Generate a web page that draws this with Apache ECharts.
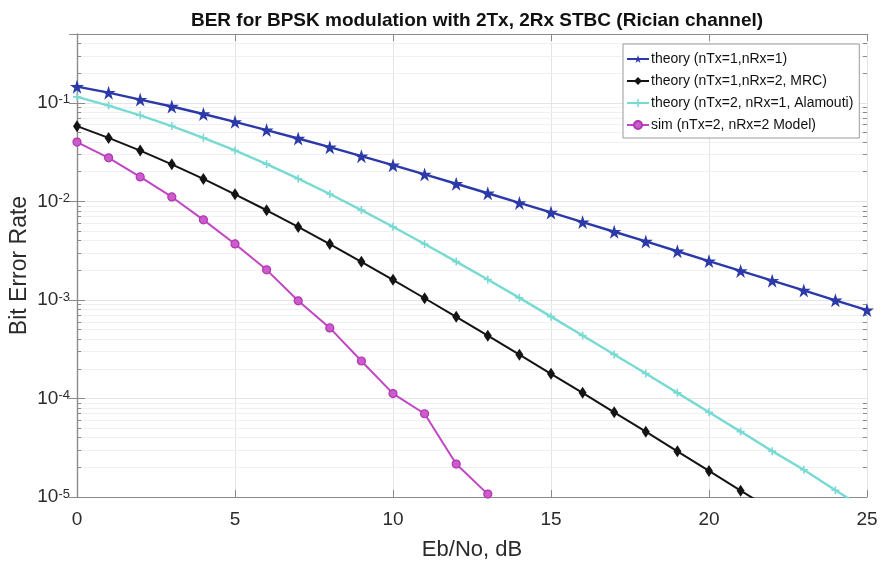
<!DOCTYPE html>
<html>
<head>
<meta charset="utf-8">
<script src="https://cdn.jsdelivr.net/npm/echarts@6/dist/echarts.min.js"></script>
<style>
  html, body { margin: 0; padding: 0; background: #ffffff; }
  #chart { width: 882px; height: 568px; }
</style>
</head>
<body>
<div id="chart"></div>
<script>
// Eb/No axis, dB
const ebno = [0, 1, 2, 3, 4, 5, 6, 7, 8, 9, 10, 11, 12, 13, 14, 15, 16, 17, 18, 19, 20, 21, 22, 23, 24, 25];

// BER curves
const berSiso = [0.146, 0.127, 0.108, 0.0919, 0.0771, 0.0642, 0.0530, 0.0435, 0.0355, 0.0288,
  0.0233, 0.0188, 0.0151, 0.0121, 0.00966, 0.00772, 0.00617, 0.00492, 0.00392, 0.00312,
  0.00248, 0.00197, 0.00157, 0.00125, 0.000992, 0.000789];
const berMrc = [0.0580, 0.0441, 0.0328, 0.0238, 0.0169, 0.0118, 0.00813, 0.00551, 0.00369, 0.00244,
  0.00160, 0.00104, 0.000674, 0.000434, 0.000278, 0.000178, 0.000114, 7.24e-5, 4.60e-5, 2.91e-5,
  1.84e-5, 1.16e-5, 7.4e-6];
const berAlamouti = [0.115, 0.0939, 0.0748, 0.0582, 0.0442, 0.0329, 0.0239, 0.0170, 0.0119, 0.00816,
  0.00553, 0.00370, 0.00245, 0.00161, 0.00105, 0.000677, 0.000436, 0.000280, 0.000179, 0.000114,
  7.25e-5, 4.61e-5, 2.92e-5, 1.89e-5, 1.17e-5, 7.4e-6];
const berSim = [0.040, 0.0277, 0.0177, 0.0111, 0.0065, 0.0037, 0.00202, 0.00098, 0.00052, 0.00024,
  0.000112, 7.0e-5, 2.16e-5, 1.07e-5];

const seriesNames = [
  'theory (nTx=1,nRx=1)',
  'theory (nTx=1,nRx=2, MRC)',
  'theory (nTx=2, nRx=1, Alamouti)',
  'sim (nTx=2, nRx=2 Model)'
];

// Axis ranges and tick labels
const xMin = 0, xMax = 25, xStep = 5;
const yMin = 1e-5, yMax = 0.5;
const yTickExponents = [-5, -4, -3, -2, -1];

const FONT = "'Liberation Sans', Arial, sans-serif";
const AXIS_GREY = '#8a8a8a';
const TEXT_DARK = '#2b2b2b';

const pairs = (ys) => ys.map((y, i) => [ebno[i], y]);

// minor decade positions 2..9 x 10^k inside the y range
const minorVals = [];
yTickExponents.forEach(k => {
  for (let m = 2; m <= 9; m++) {
    const v = m * Math.pow(10, k);
    if (v < yMax) minorVals.push(v);
  }
});

const minorGrid = minorVals.map(v => [{ coord: [xMin, v] }, { coord: [xMax, v] }]);
const minorTicks = [];
minorVals.forEach(v => {
  minorTicks.push([{ coord: [xMin, v] }, { coord: [xMin + 0.13, v] }]);
  minorTicks.push([{ coord: [xMax - 0.13, v] }, { coord: [xMax, v] }]);
});

const starPath = 'path://M50,0 L61.2,34.5 L97.6,34.5 L68.2,55.9 L79.4,90.5 L50,69.1 L20.6,90.5 L31.8,55.9 L2.4,34.5 L38.8,34.5 Z';
const plusPath = 'path://M4,0 L6,0 L6,4 L10,4 L10,6 L6,6 L6,10 L4,10 L4,6 L0,6 L0,4 L4,4 Z';

const chart = echarts.init(document.getElementById('chart'), null, { renderer: 'canvas' });

chart.setOption({
  animation: false,
  backgroundColor: '#ffffff',
  title: {
    text: 'BER for BPSK modulation with 2Tx, 2Rx STBC (Rician channel)',
    left: 472,
    textAlign: 'center',
    top: 6,
    textStyle: { fontFamily: FONT, fontSize: 19, fontWeight: 'bold', color: '#111' }
  },
  grid: { left: 77, top: 34, right: 15, bottom: 71, outerBoundsMode: 'none', containLabel: false },
  legend: {
    data: seriesNames,
    orient: 'vertical',
    left: 623,
    top: 44,
    backgroundColor: '#ffffff',
    borderColor: '#9a9a9a',
    borderWidth: 1,
    padding: [8, 6, 6, 3],
    itemGap: 8,
    itemWidth: 22,
    itemHeight: 10,
    textStyle: { fontFamily: FONT, fontSize: 14, color: '#111', padding: [0, 0, 0, -3] }
  },
  xAxis: [
    {
      type: 'value', min: xMin, max: xMax, interval: xStep,
      name: 'Eb/No, dB', nameLocation: 'middle', nameGap: 42, nameMoveOverlap: false,
      nameTextStyle: { fontFamily: FONT, fontSize: 22, color: TEXT_DARK },
      axisLine: { show: true, lineStyle: { color: AXIS_GREY, width: 1.2 } },
      axisTick: { show: true, inside: true, length: 7, lineStyle: { color: AXIS_GREY } },
      axisLabel: { fontFamily: FONT, fontSize: 19, color: TEXT_DARK, margin: 13 },
      splitLine: { show: true, lineStyle: { color: '#e4e4e4', width: 1 } }
    },
    {
      type: 'value', position: 'top', min: xMin, max: xMax, interval: xStep,
      axisLine: { show: true, lineStyle: { color: AXIS_GREY, width: 1.2 } },
      axisTick: { show: true, inside: true, length: 7, lineStyle: { color: AXIS_GREY } },
      axisLabel: { show: false },
      splitLine: { show: false }
    }
  ],
  yAxis: [
    {
      type: 'log', logBase: 10, min: yMin, max: yMax,
      name: 'Bit Error Rate', nameLocation: 'middle', nameGap: 46, nameMoveOverlap: false,
      nameTextStyle: { fontFamily: FONT, fontSize: 23, color: TEXT_DARK },
      axisLine: { show: true, lineStyle: { color: AXIS_GREY, width: 1.2 } },
      axisTick: { show: true, inside: true, length: 8, lineStyle: { color: AXIS_GREY } },
      axisLabel: {
        margin: 7,
        formatter: (v) => {
          const lg = Math.log10(v);
          const e = Math.round(lg);
          if (Math.abs(lg - e) > 1e-6 || yTickExponents.indexOf(e) < 0) return '';
          return '{b|10}{s|' + e + '}';
        },
        rich: {
          b: { fontFamily: FONT, fontSize: 19, color: TEXT_DARK },
          s: { fontFamily: FONT, fontSize: 13, color: TEXT_DARK, verticalAlign: 'top' }
        }
      },
      splitLine: { show: true, lineStyle: { color: '#e4e4e4', width: 1 } }
    },
    {
      type: 'log', logBase: 10, min: yMin, max: yMax, position: 'right',
      axisLine: { show: true, lineStyle: { color: AXIS_GREY, width: 1.2 } },
      axisTick: { show: true, inside: true, length: 8, lineStyle: { color: AXIS_GREY } },
      axisLabel: { show: false },
      splitLine: { show: false }
    }
  ],
  series: [
    {
      name: 'minor grid',
      type: 'line',
      data: [],
      silent: true,
      markLine: {
        silent: true, symbol: 'none', z: 1,
        label: { show: false },
        lineStyle: { color: '#f0f0f0', width: 1, type: 'solid' },
        data: minorGrid
      }
    },
    {
      name: 'minor ticks',
      type: 'line',
      data: [],
      silent: true,
      markLine: {
        silent: true, symbol: 'none', z: 1,
        label: { show: false },
        lineStyle: { color: AXIS_GREY, width: 1, type: 'solid' },
        data: minorTicks
      }
    },
    {
      name: seriesNames[0], type: 'line', data: pairs(berSiso),
      symbol: starPath, symbolSize: 14,
      lineStyle: { color: '#2c39a8', width: 2.4 },
      itemStyle: { color: '#2c39a8' }
    },
    {
      name: seriesNames[1], type: 'line', data: pairs(berMrc),
      symbol: 'diamond', symbolSize: [8, 12],
      lineStyle: { color: '#141414', width: 2 },
      itemStyle: { color: '#141414' }
    },
    {
      name: seriesNames[2], type: 'line', data: pairs(berAlamouti),
      symbol: plusPath, symbolSize: 8,
      lineStyle: { color: '#78dad2', width: 2.4 },
      itemStyle: { color: '#78dad2' }
    },
    {
      name: seriesNames[3], type: 'line', data: pairs(berSim),
      symbol: 'circle', symbolSize: 8,
      lineStyle: { color: '#c246c4', width: 2 },
      itemStyle: { color: '#cc5ccc', borderColor: '#b035b2', borderWidth: 1.2 }
    }
  ]
});
</script>
</body>
</html>
